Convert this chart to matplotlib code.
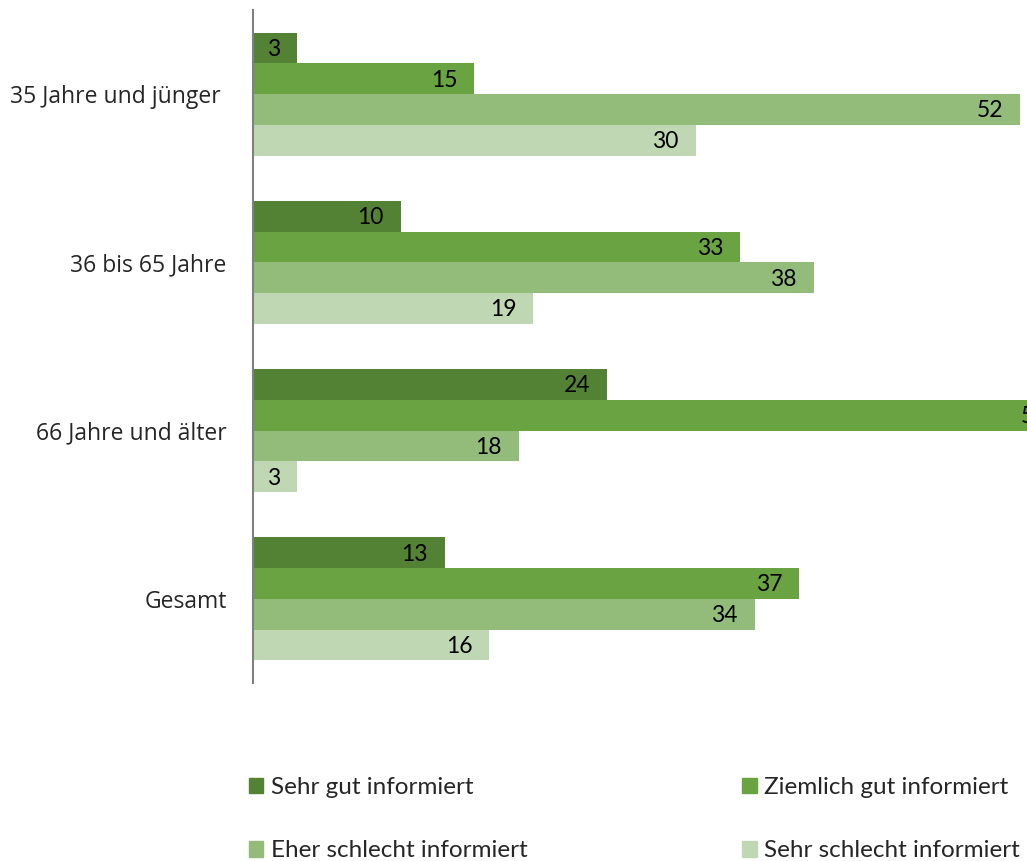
import numpy as np
import matplotlib.pyplot as plt
from matplotlib.patches import Patch

groups = ['35 Jahre und jünger ', '36 bis 65 Jahre', '66 Jahre und älter', 'Gesamt']
series = ['Sehr gut informiert', 'Ziemlich gut informiert',
          'Eher schlecht informiert', 'Sehr schlecht informiert']
sehr_gut = [3, 10, 24, 13]
ziemlich_gut = [15, 33, 55, 37]
eher_schlecht = [52, 38, 18, 34]
sehr_schlecht = [30, 19, 3, 16]
values = [sehr_gut, ziemlich_gut, eher_schlecht, sehr_schlecht]
colors = ['#548235', '#69a342', '#93bc7a', '#bfd7b3']

fig = plt.figure(figsize=(10.27, 8.61), dpi=100)
# the axis runs past the right edge on purpose, long bars get cut off there
ax = fig.add_axes([253 / 1027, 1 - 683 / 861, 885 / 1027, 673 / 861])

bar_h = 0.183
y = np.arange(len(groups))
for i, (vals, col, name) in enumerate(zip(values, colors, series)):
    ypos = y - 1.5 * bar_h + i * bar_h
    bars = ax.barh(ypos, vals, height=bar_h, color=col, label=name, edgecolor='none')
    for b, v in zip(bars, vals):
        ax.annotate(str(v), (v, b.get_y() + b.get_height() / 2), xytext=(-12, -1),
                    textcoords='offset points', ha='right', va='center',
                    fontsize=16.5, family='Lato', color='black')

ax.set_xlim(0, 60)
ax.set_ylim(3.5, -0.5)
ax.set_yticks(y)
ax.set_yticklabels(groups, fontsize=16.5, family='Open Sans', color='#262626')
ax.tick_params(axis='y', length=0, pad=19)
ax.set_xticks([])
for s in ['top', 'right', 'bottom']:
    ax.spines[s].set_visible(False)
ax.spines['left'].set_color('#808080')
ax.spines['left'].set_linewidth(1.5)

handles = [Patch(color=c) for c in colors]
order = [0, 2, 1, 3]
fig.legend([handles[k] for k in order], [series[k] for k in order], ncol=2,
           loc='upper left', bbox_to_anchor=(227 / 1027, 1 - 755 / 861),
           frameon=False, prop={'family': 'Lato', 'size': 17.5},
           handlelength=0.6, handleheight=0.6, handletextpad=0.3,
           labelspacing=1.75, columnspacing=8.85, labelcolor='#262626')

fig.savefig('out.png', dpi=100)
